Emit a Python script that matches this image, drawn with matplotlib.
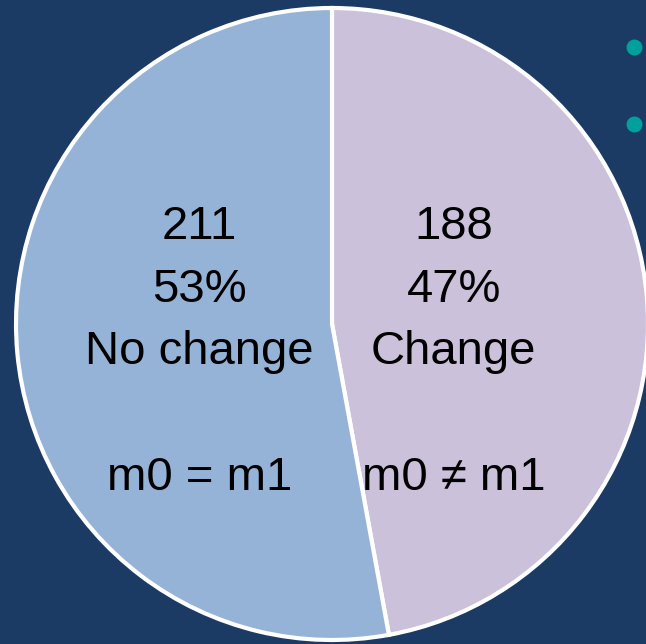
import matplotlib
matplotlib.use('Agg')
import matplotlib.pyplot as plt

# Slice data (clockwise from 12 o'clock)
names   = ['Change', 'No change']
counts  = [188, 211]
notes   = ['m0 \u2260 m1', 'm0 = m1']
colours = ['#CCC1DA', '#95B3D7']

# Label text blocks centres (data units, pie radius = 1)
label_xy = [(0.385, -0.09), (-0.42, -0.09)]

# Teal bullets of the slide text on the right
bullet_x = [0.956, 0.956]
bullet_y = [0.877, 0.633]

bg = '#1B3A64'

fig = plt.figure(figsize=(6.46, 6.44), dpi=100)
fig.patch.set_facecolor(bg)
ax = fig.add_axes([0, 0, 1, 1])
ax.set_facecolor(bg)

ax.pie(counts, colors=colours, startangle=90, counterclock=False,
       wedgeprops=dict(edgecolor='white', linewidth=3))

total = sum(counts)
for (x, y), n, c, note in zip(label_xy, names, counts, notes):
	pct = round(100.0 * c / total)
	txt = '%d\n%d%%\n%s\n\n%s' % (c, pct, n, note)
	ax.text(x, y, txt, ha='center', va='center', fontsize=34,
	        family='Liberation Sans', linespacing=1.55, color='black')

ax.scatter(bullet_x, bullet_y, s=110, color='#00A19D', clip_on=False, zorder=5)

ax.set_aspect('auto')
ax.set_xlim(-332 / 316, 314 / 316)
ax.set_ylim(-320 / 316, 324 / 316)
ax.axis('off')

fig.savefig('out.png', dpi=100, facecolor=bg)
